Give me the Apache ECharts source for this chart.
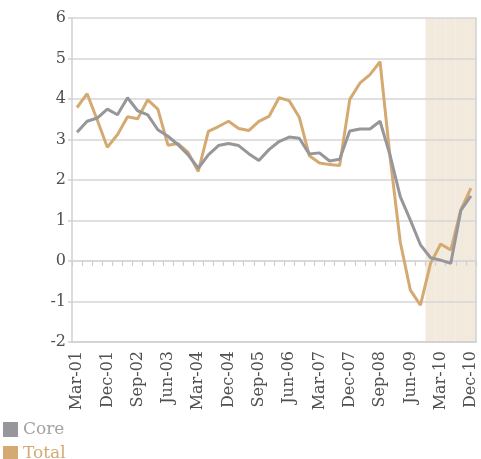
<!DOCTYPE html>
<html>
<head>
<meta charset="utf-8">
<script src="https://cdn.jsdelivr.net/npm/echarts@6/dist/echarts.min.js"></script>
<style>
  html, body { margin: 0; padding: 0; background: #fff; }
  #chart { width: 481px; height: 459px; }
</style>
</head>
<body>
<div id="chart"></div>
<script>
const categories = [
  'Mar-01', 'Jun-01', 'Sep-01', 'Dec-01', 'Mar-02', 'Jun-02', 'Sep-02', 'Dec-02',
  'Mar-03', 'Jun-03', 'Sep-03', 'Dec-03', 'Mar-04', 'Jun-04', 'Sep-04', 'Dec-04',
  'Mar-05', 'Jun-05', 'Sep-05', 'Dec-05', 'Mar-06', 'Jun-06', 'Sep-06', 'Dec-06',
  'Mar-07', 'Jun-07', 'Sep-07', 'Dec-07', 'Mar-08', 'Jun-08', 'Sep-08', 'Dec-08',
  'Mar-09', 'Jun-09', 'Sep-09', 'Dec-09', 'Mar-10', 'Jun-10', 'Sep-10', 'Dec-10'
]
const total = [
  3.79, 4.13, 3.48, 2.81, 3.12, 3.56, 3.51, 3.98, 3.75, 2.86,
  2.9, 2.68, 2.21, 3.2, 3.32, 3.45, 3.27, 3.22, 3.45, 3.57,
  4.03, 3.96, 3.55, 2.6, 2.42, 2.38, 2.36, 3.99, 4.39, 4.6,
  4.92, 2.55, 0.47, -0.72, -1.09, -0.06, 0.42, 0.27, 1.26, 1.8
]
const core = [
  3.18, 3.45, 3.53, 3.75, 3.61, 4.03, 3.71, 3.61, 3.24, 3.08,
  2.87, 2.62, 2.29, 2.62, 2.85, 2.9, 2.85, 2.65, 2.48, 2.75,
  2.95, 3.06, 3.03, 2.64, 2.67, 2.47, 2.51, 3.21, 3.26, 3.26,
  3.45, 2.6, 1.59, 1.01, 0.4, 0.08, 0.02, -0.06, 1.25, 1.61
]
// quarters falling in the shaded band
const shaded = ['Dec-09', 'Mar-10', 'Jun-10', 'Sep-10', 'Dec-10']

const shadeData = categories.map(c => (shaded.includes(c) ? 1 : null))

const font = 'DejaVu Serif'
const chart = echarts.init(document.getElementById('chart'))

chart.setOption({
  animation: false,
  backgroundColor: '#fff',
  textStyle: { fontFamily: font },
  legend: {
    data: [
      { name: 'Core', textStyle: { color: '#a3a3a6' } },
      { name: 'Total', textStyle: { color: '#d4aa72' } }
    ],
    orient: 'vertical',
    left: 3, top: 421, height: 60,
    icon: 'rect', itemWidth: 15, itemHeight: 15, itemGap: 7,
    textStyle: { fontFamily: font, fontSize: 17 },
    padding: 0
  },
  grid: { left: 72, right: 5, top: 18, bottom: 117 },
  xAxis: [
    {
      type: 'category', data: categories, position: 'bottom',
      axisLine: { onZero: false, lineStyle: { color: '#d0d0d0', width: 1.5 } },
      axisTick: { show: false },
      axisLabel: {
        interval: 2, rotate: 90, margin: 9,
        color: '#505050', fontFamily: font, fontSize: 16
      }
    },
    {
      type: 'category', data: categories, position: 'bottom',
      axisLine: { onZero: true, onZeroAxisIndex: 0, lineStyle: { color: '#d6d6d6', width: 1.5 } },
      axisTick: { show: true, interval: 0, length: 5, inside: false, lineStyle: { color: '#cfcfcf', width: 1.2 } },
      axisLabel: { show: false }
    }
  ],
  yAxis: [
    {
      type: 'value', min: -2, max: 6, interval: 1,
      axisLine: { show: true, lineStyle: { color: '#d0d0d0', width: 1.5 } },
      axisTick: { show: true, length: 4, lineStyle: { color: '#d0d0d0', width: 1.5 } },
      axisLabel: { color: '#505050', fontFamily: font, fontSize: 16, margin: 6 },
      splitLine: { lineStyle: { color: '#d6d6d6', width: 1.5 } }
    },
    {
      type: 'value', min: 0, max: 1, position: 'right',
      axisLine: { show: true, lineStyle: { color: '#d0d0d0', width: 1.5 } },
      axisTick: { show: false },
      axisLabel: { show: false },
      splitLine: { show: false }
    }
  ],
  series: [
    {
      name: 'shade', type: 'bar', yAxisIndex: 1, z: -1,
      data: shadeData, barWidth: '100%', barCategoryGap: '0%',
      itemStyle: { color: '#f3eade' }, silent: true
    },
    {
      name: 'Total', type: 'line', data: total, symbol: 'none',
      lineStyle: { color: '#d4aa72', width: 3 }, itemStyle: { color: '#d4aa72' }
    },
    {
      name: 'Core', type: 'line', data: core, symbol: 'none',
      lineStyle: { color: '#96969b', width: 3 }, itemStyle: { color: '#96969b' }
    }
  ]
})
</script>
</body>
</html>
